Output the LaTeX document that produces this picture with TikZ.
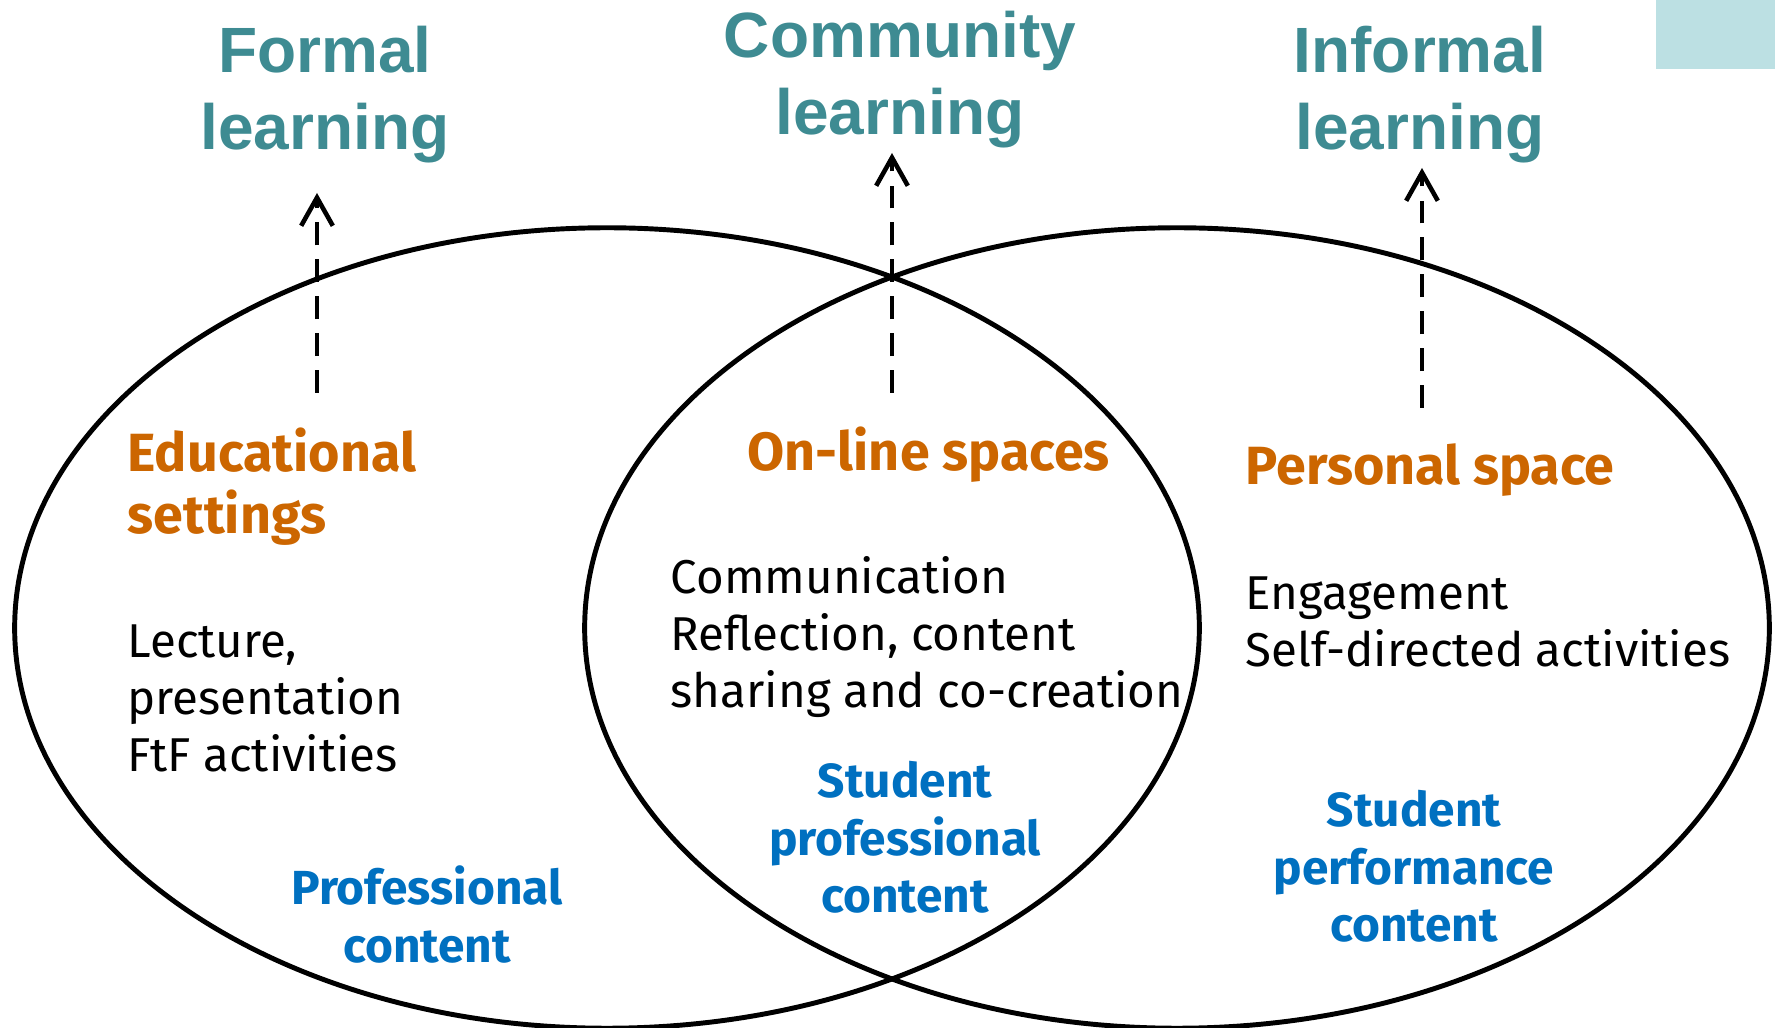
\documentclass[tikz,border=0pt]{standalone}
\usepackage{fontspec}
\setmainfont{Fira Sans}
\newfontfamily\titlefont{Liberation Sans}
\usetikzlibrary{arrows.meta}
\definecolor{titleteal}{RGB}{62,139,146}
\definecolor{spaceorange}{RGB}{204,102,0}
\definecolor{contentblue}{RGB}{0,112,192}
\definecolor{cornerteal}{RGB}{188,224,227}
\begin{document}
\begin{tikzpicture}[x=0.01cm,y=-0.01cm,
  title/.style={text=titleteal,font=\titlefont\bfseries\fontsize{18.2}{21.9}\selectfont,align=center,anchor=base,inner sep=0},
  space/.style={text=spaceorange,font=\bfseries\fontsize{15.3}{17.9}\selectfont,align=left,anchor=base west,inner sep=0},
  activity/.style={font=\fontsize{13.5}{16.3}\selectfont,align=left,anchor=base west,inner sep=0},
  content/.style={text=contentblue,font=\bfseries\fontsize{13.6}{16.4}\selectfont,align=center,anchor=base,inner sep=0},
  upflow/.style={line width=1.3pt,dash pattern=on 6.5pt off 4pt,-{Straight Barb[length=8pt,width=9pt]}}]
\useasboundingbox (0,0) rectangle (1775,1028);
% 右上の帯
\fill[cornerteal] (1656,0) rectangle (1775,69);
% 二つの楕円
\draw[line width=1.4pt] (607,628) ellipse [x radius=5.92cm,y radius=4cm];
\draw[line width=1.4pt] (1177,628) ellipse [x radius=5.92cm,y radius=4cm];
% 学習の種類
\node[title] (formal) at (325,150) {Formal\\learning};
\node[title] (community) at (900,135) {Community\\learning};
\node[title] (informal) at (1420,150) {Informal\\learning};
% 空間
\node[space] (educational) at (127,534) {Educational\\settings};
\node[space] (online) at (747,471) {On-line spaces};
\node[space] (personal) at (1245,485) {Personal space};
% 活動
\node[activity] (lecture) at (127,772) {Lecture,\\presentation\\FtF activities};
\node[activity] (communication) at (670,708) {Communication\\Reflection, content\\sharing and co-creation};
\node[activity] (engagement) at (1245,667) {Engagement\\Self-directed activities};
% 内容
\node[content] (profcontent) at (427,962) {Professional\\content};
\node[content] (studprof) at (905,913) {Student\\professional\\content};
\node[content] (studperf) at (1414,942) {Student\\performance\\content};
% 矢印
\coordinate (formalfoot) at (317,393);
\coordinate (formaltip) at (317,193);
\coordinate (communityfoot) at (892,393);
\coordinate (communitytip) at (892,153);
\coordinate (informalfoot) at (1422,408);
\coordinate (informaltip) at (1422,168);
\draw[upflow] (formalfoot) -- (formaltip);
\draw[upflow] (communityfoot) -- (communitytip);
\draw[upflow] (informalfoot) -- (informaltip);
\end{tikzpicture}
\end{document}
